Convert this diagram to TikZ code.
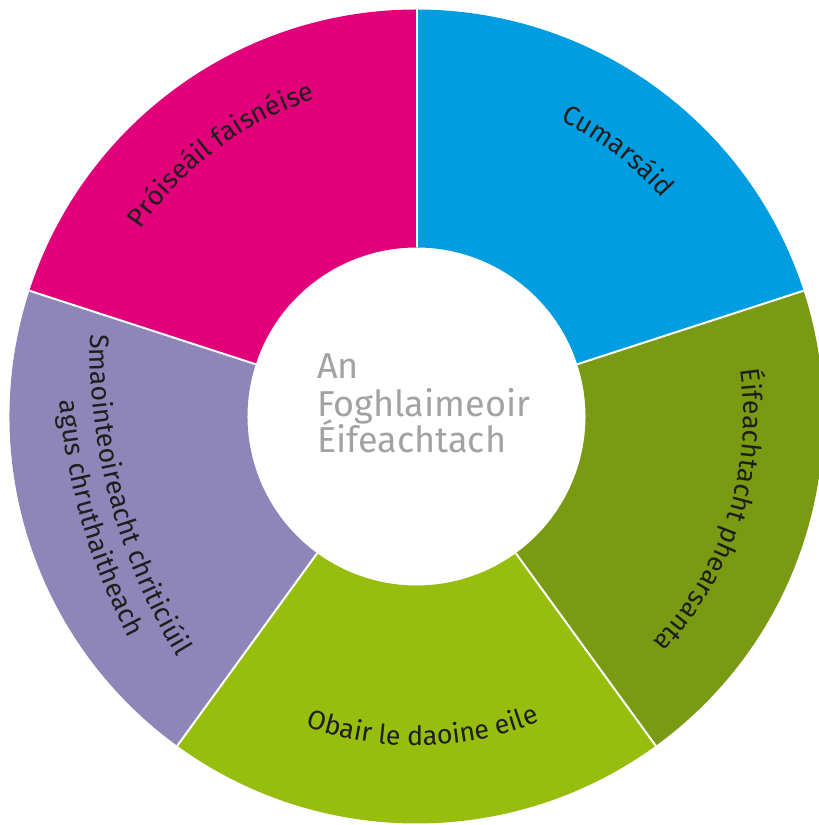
\documentclass[tikz,border=0pt]{standalone}
\usepackage{fontspec}
\setmainfont{Fira Sans}
\usetikzlibrary{decorations.text}
\definecolor{cblue}{HTML}{009EE0}
\definecolor{colive}{HTML}{7A9A13}
\definecolor{cyg}{HTML}{97BD0E}
\definecolor{clav}{HTML}{8E85B9}
\definecolor{cmag}{HTML}{E2007A}
\definecolor{cgray}{HTML}{A2A2A1}
\definecolor{ctxt}{HTML}{1E1E1C}
\newcommand\labfont{\fontsize{26.8pt}{32pt}\selectfont}
\tikzset{
  sep/.style={draw=white, line width=2pt},
  lab/.style={decorate, decoration={text along path, text align=center, text color=ctxt, text={|\labfont|#1}}},
  ctr/.style={anchor=base west, inner sep=0pt, text=cgray, font=\fontsize{36pt}{40pt}\selectfont},
}
\begin{document}
\begin{tikzpicture}[x=1pt,y=1pt]
\useasboundingbox (0,0) rectangle (819,825);
\begin{scope}[shift={(416.5,408.5)}]
  \def\Ro{407pt}\def\Ri{169pt}
  \fill[cblue] (18:\Ro) arc[start angle=18,end angle=90,radius=\Ro] -- (90:\Ri) arc[start angle=90,end angle=18,radius=\Ri] -- cycle;
  \fill[colive] (-54:\Ro) arc[start angle=-54,end angle=18,radius=\Ro] -- (18:\Ri) arc[start angle=18,end angle=-54,radius=\Ri] -- cycle;
  \fill[cyg] (-126:\Ro) arc[start angle=-126,end angle=-54,radius=\Ro] -- (-54:\Ri) arc[start angle=-54,end angle=-126,radius=\Ri] -- cycle;
  \fill[clav] (162:\Ro) arc[start angle=162,end angle=234,radius=\Ro] -- (234:\Ri) arc[start angle=234,end angle=162,radius=\Ri] -- cycle;
  \fill[cmag] (90:\Ro) arc[start angle=90,end angle=162,radius=\Ro] -- (162:\Ri) arc[start angle=162,end angle=90,radius=\Ri] -- cycle;
  \foreach \a in {90,18,-54,-126,162} \draw[sep] (\a:\Ri) -- (\a:\Ro);
  \path[lab={Cumarsáid}] (90:329pt) arc[start angle=90,end angle=15.6,radius=329pt];
  \path[lab={Próiseáil faisnéise}] (166.75:333pt) arc[start angle=166.75,end angle=86.75,radius=333pt];
  \path[lab={Éifeachtacht phearsanta}] (32.25:327pt) arc[start angle=32.25,end angle=-67.75,radius=327pt];
  \path[lab={Obair le daoine eile}] (231.15:329pt) arc[start angle=231.15,end angle=311.15,radius=329pt];
  \begin{scope}[shift={(267.5,69.5)}]
    \path[lab={Smaointeoireacht chriticiúil}] (160.1:594pt) arc[start angle=160.1,end angle=230.1,radius=594pt];
    \path[lab={agus chruthaitheach}] (161.3:627pt) arc[start angle=161.3,end angle=231.3,radius=627pt];
  \end{scope}
\end{scope}
\node[ctr] (an) at (317,446.7) {An};
\node[ctr] (fogh) at (317,408.3) {Foghlaimeoir};
\node[ctr] (eif) at (317,372.3) {Éifeachtach};
\end{tikzpicture}
\end{document}
